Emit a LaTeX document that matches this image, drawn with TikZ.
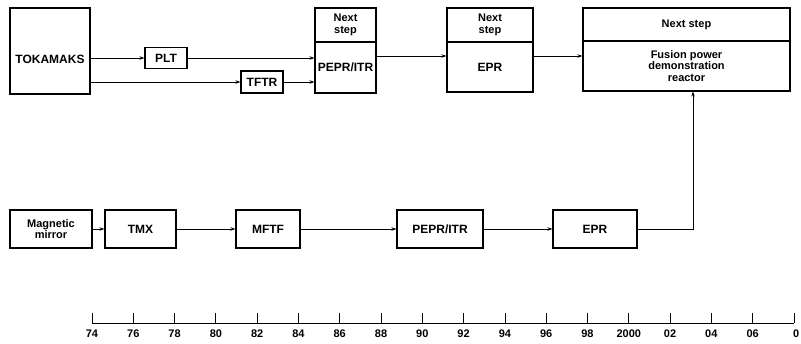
\documentclass[tikz,border=0pt]{standalone}
\usepackage{fontspec}
\setmainfont{Liberation Sans}
\usetikzlibrary{arrows.meta,calc}
\begin{document}
\begin{tikzpicture}[x=1pt,y=-1pt,
  box/.style={draw,line width=1.1pt,inner sep=0pt,align=center,font=\fontsize{11}{11.5}\selectfont\bfseries},
  bigbox/.style={box,font=\fontsize{12}{12.5}\selectfont\bfseries},
  conn/.style={line width=0.8pt,-{Stealth[length=5pt,width=3.5pt]}},
  plain/.style={line width=0.8pt},
  yr/.style={font=\fontsize{11}{11.5}\selectfont\bfseries,inner sep=0pt}]
\useasboundingbox (0,0) rectangle (801,344);
% top row
\node[bigbox,minimum width=80pt,minimum height=86pt] (tok) at (50,51) {\smash{\raisebox{-13pt}{TOKAMAKS}}};
\node[bigbox,minimum width=42pt,minimum height=21pt] (plt) at (166,58) {PLT};
\node[bigbox,minimum width=42pt,minimum height=22pt] (tftr) at (262,82) {TFTR};
\node[box,minimum width=61pt,minimum height=34pt] (pnext) at (345.5,25) {Next\\step};
\node[bigbox,minimum width=61pt,minimum height=51pt] (pepr) at (345.5,67.5) {PEPR/ITR};
\node[box,minimum width=86pt,minimum height=34pt] (enext) at (490,25) {Next\\step};
\node[bigbox,minimum width=86pt,minimum height=50pt] (epr) at (490,67) {EPR};
\node[box,minimum width=207pt,minimum height=33pt] (fnext) at (686.5,24.5) {Next step};
\node[box,minimum width=207pt,minimum height=50pt] (fus) at (686.5,66) {Fusion power\\demonstration\\reactor};
% top connectors
\draw[conn] (tok.east |- plt.west) -- (plt.west);
\draw[conn] (plt.east) -- (plt.east -| pepr.west);
\draw[conn] (tok.east |- tftr.west) -- (tftr.west);
\draw[conn] (tftr.east) -- (tftr.east -| pepr.west);
\coordinate (ya) at (0,56);
\draw[conn] (pepr.east |- ya) -- (epr.west |- ya);
\draw[conn] (epr.east |- ya) -- (fus.west |- ya);
% bottom row
\node[box,minimum width=82pt,minimum height=38pt] (mm) at (51,229) {Magnetic\\mirror};
\node[bigbox,minimum width=71pt,minimum height=38pt] (tmx) at (140.5,229) {TMX};
\node[bigbox,minimum width=64pt,minimum height=38pt] (mftf) at (268,229) {MFTF};
\node[bigbox,minimum width=86pt,minimum height=38pt] (pepr2) at (440,229) {PEPR/ITR};
\node[bigbox,minimum width=84pt,minimum height=38pt] (epr2) at (595,229) {EPR};
\draw[conn] (mm) -- (tmx);
\draw[conn] (tmx) -- (mftf);
\draw[conn] (mftf) -- (pepr2);
\draw[conn] (pepr2) -- (epr2);
\coordinate (xv) at (693,0);
\draw[conn] (epr2.east) -| (xv |- fus.south);
% timeline
\coordinate (tl0) at (92,323);
\coordinate (tl1) at (794,323);
\draw[plain] (tl0) -- (tl1);
\foreach \i/\lab in {0/74,1/76,2/78,3/80,4/82,5/84,6/86,7/88,8/90,9/92,10/94,11/96,12/98,13/2000,14/02,15/04,16/06}{
  \draw[plain] ($(tl0)+(\i*41.29,0)$) -- ++(0,-10);
  \node[yr] at ($(tl0)+(\i*41.29,11)$) {\lab};
}
\draw[plain] (tl1) -- ++(0,-10);
\node[yr,anchor=west] at ($(tl1)+(-1,11)$) {0};
\end{tikzpicture}
\end{document}
